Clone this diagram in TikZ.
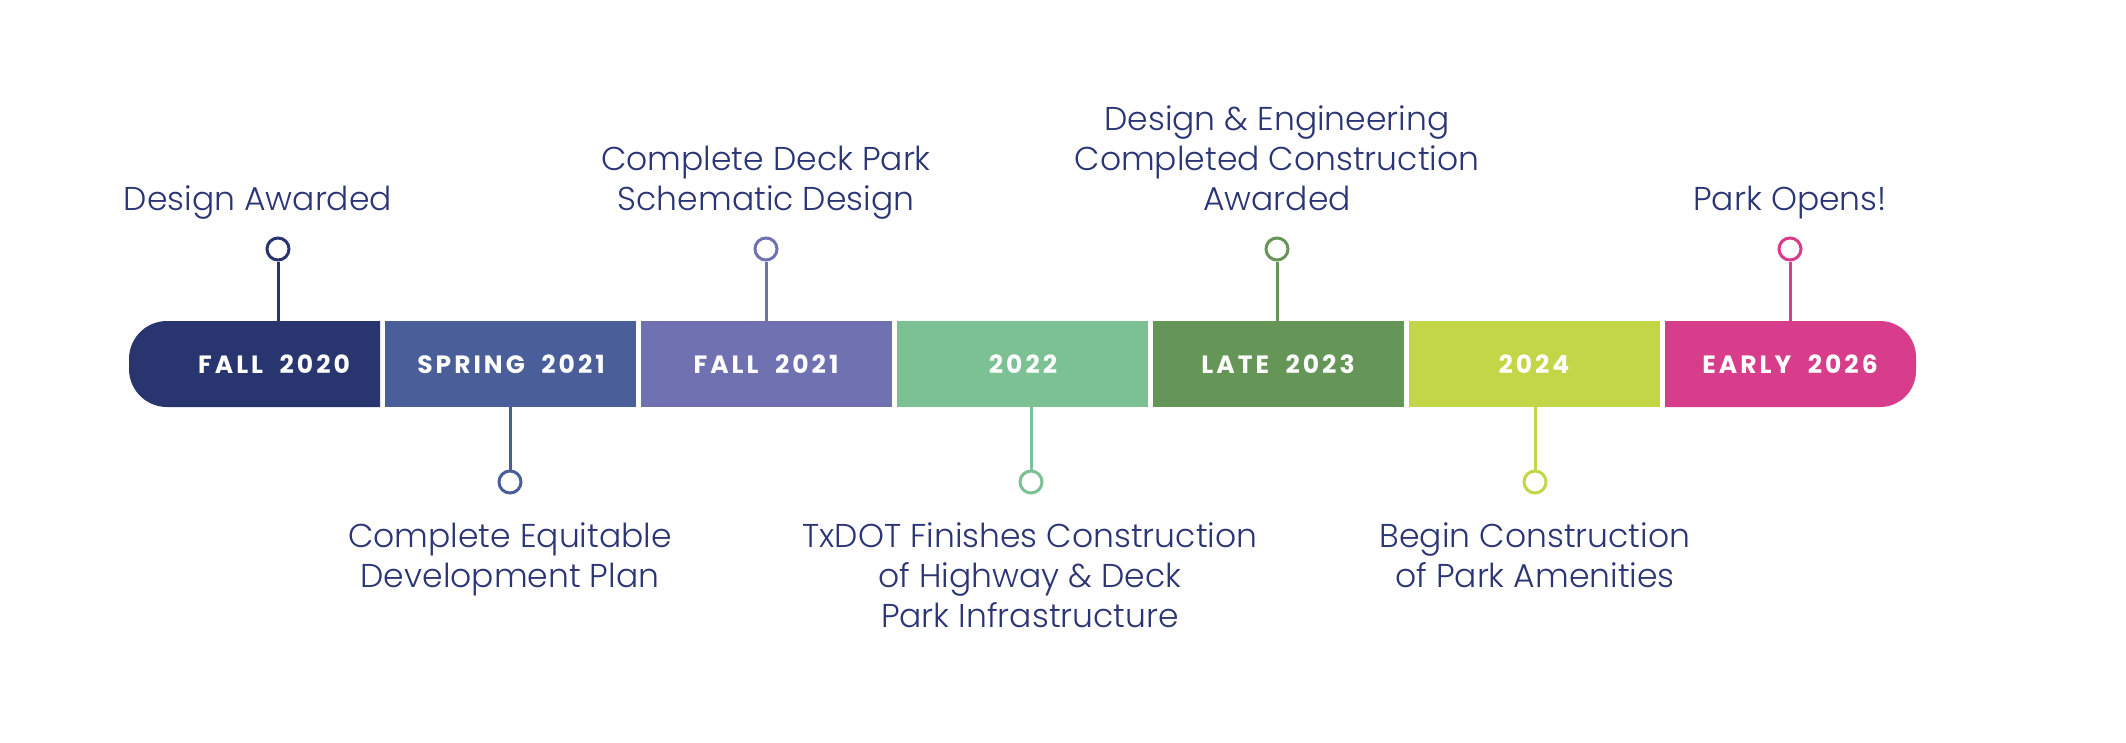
\documentclass[tikz,border=0pt]{standalone}
\usepackage{fontspec}
\newfontfamily\lblfont{Poppins Light}
\newfontfamily\barfont[LetterSpace=12]{Poppins Bold}
\definecolor{cA}{HTML}{28356F}
\definecolor{cB}{HTML}{4A5F9A}
\definecolor{cC}{HTML}{6F71B0}
\definecolor{cD}{HTML}{7CC194}
\definecolor{cE}{HTML}{669558}
\definecolor{cF}{HTML}{C2D648}
\definecolor{cG}{HTML}{D83D8B}
\definecolor{ink}{HTML}{2B3576}
\begin{document}
\begin{tikzpicture}[x=1pt,y=-1pt,
  seg/.style={rectangle, minimum width=251pt, minimum height=86pt, inner sep=0pt, outer sep=0pt},
  yr/.style={text=white, font=\barfont\fontsize{25}{25}\selectfont, anchor=base, inner sep=0pt},
  dot/.style={circle, draw, line width=3pt, fill=white, minimum size=22pt, inner sep=0pt},
  stem/.style={line width=3pt},
  lbl/.style={text=ink, font=\lblfont\fontsize{33}{40}\selectfont, align=center, anchor=base, inner sep=0pt}]
\useasboundingbox (0,0) rectangle (2126,742);
\fill[white] (0,0) rectangle (2126,742);
% segments
\node[seg] (s1) at (254.5,364) {};
\begin{scope}
  \clip (0,300) rectangle (380,430);
  \fill[cA, rounded corners=38pt] (129,321) rectangle (430,407);
\end{scope}
\node[seg, fill=cB] (s2) at (510.5,364) {};
\node[seg, fill=cC] (s3) at (766.5,364) {};
\node[seg, fill=cD] (s4) at (1022.5,364) {};
\node[seg, fill=cE] (s5) at (1278.5,364) {};
\node[seg, fill=cF] (s6) at (1534.5,364) {};
\node[seg] (s7) at (1790.5,364) {};
\begin{scope}
  \clip (1665,300) rectangle (2000,430);
  \fill[cG, rounded corners=36pt] (1615,321) rectangle (1916,407);
\end{scope}
% year texts
\node[yr] (y1) at (274,373) {FALL\ \ 2020};
\node[yr] (y2) at (511,373) {SPRING\ \ 2021};
\node[yr] (y3) at (766,373) {FALL\ \ 2021};
\node[yr] (y4) at (1023,373) {2022};
\node[yr] (y5) at (1278,373) {LATE\ \ 2023};
\node[yr] (y6) at (1534,373) {2024};
\node[yr] (y7) at (1790,373) {EARLY\ \ 2026};
% dots
\node[dot, draw=cA] (d1) at (278,249) {};
\node[dot, draw=cB] (d2) at (510,482) {};
\node[dot, draw=cC] (d3) at (766,249) {};
\node[dot, draw=cD] (d4) at (1031,482) {};
\node[dot, draw=cE] (d5) at (1277,249) {};
\node[dot, draw=cF] (d6) at (1535,482) {};
\node[dot, draw=cG] (d7) at (1790,249) {};
% stems
\draw[stem, cA] (d1) -- (d1 |- s1.north);
\draw[stem, cB] (d2) -- (d2 |- s2.south);
\draw[stem, cC] (d3) -- (d3 |- s3.north);
\draw[stem, cD] (d4) -- (d4 |- s4.south);
\draw[stem, cE] (d5) -- (d5 |- s5.north);
\draw[stem, cF] (d6) -- (d6 |- s6.south);
\draw[stem, cG] (d7) -- (d7 |- s7.north);
% labels (anchored at the baseline of the last line)
\node[lbl] (l1) at (258,210) {Design Awarded};
\node[lbl] (l3) at (766,210) {Complete Deck Park\\Schematic Design};
\node[lbl] (l5) at (1277,210) {Design \& Engineering\\Completed Construction\\Awarded};
\node[lbl] (l7) at (1790,210) {Park Opens!};
\node[lbl] (l2) at (510,587) {Complete Equitable\\Development Plan};
\node[lbl] (l4) at (1030,627) {TxDOT Finishes Construction\\of Highway \& Deck\\Park Infrastructure};
\node[lbl] (l6) at (1535,587) {Begin Construction\\of Park Amenities};
\end{tikzpicture}
\end{document}
